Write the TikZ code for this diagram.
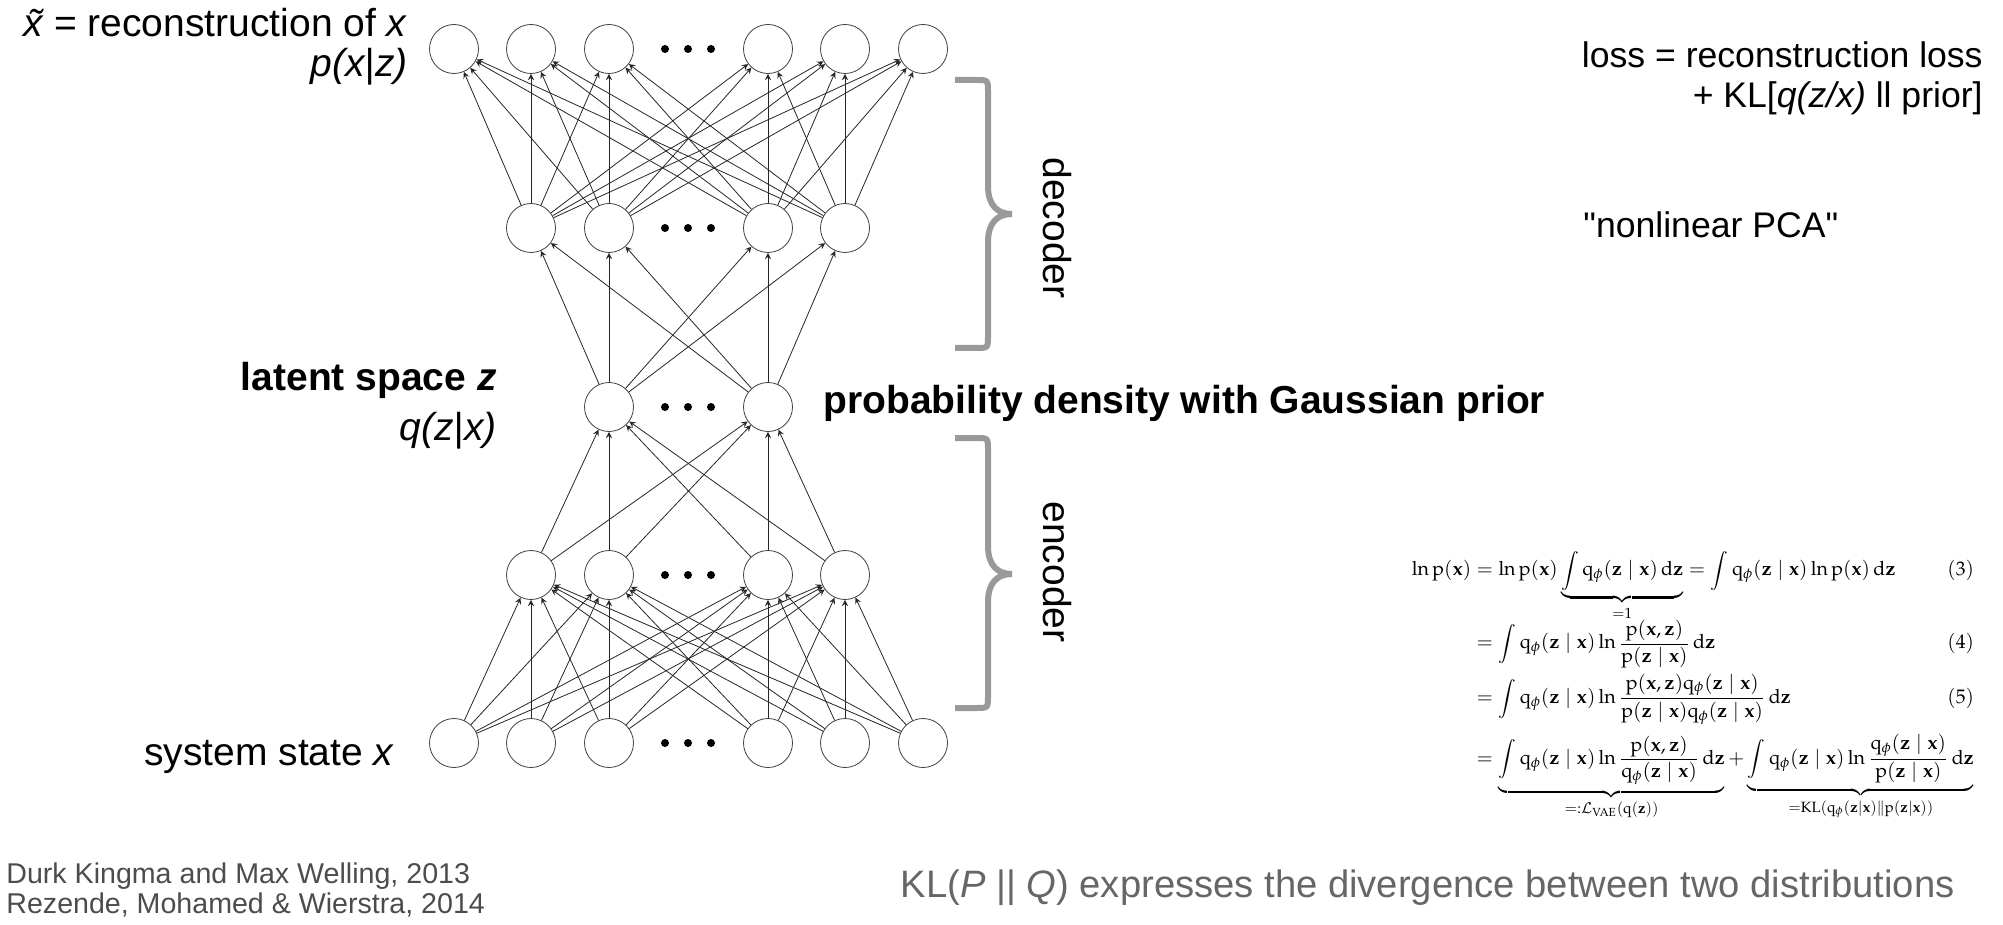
\documentclass[tikz,border=0pt]{standalone}
\usepackage{amsmath}
\usepackage{array}
\usepackage{mathpazo}
\usepackage[no-math]{fontspec}
\setmainfont{Liberation Sans}
\usepackage{tikz}
\usetikzlibrary{arrows,shapes}
\definecolor{refgray}{gray}{0.3}
\definecolor{klgray}{gray}{0.4}
\definecolor{bracegray}{gray}{0.6}
\newcommand\lblfont{\fontsize{19.5pt}{23pt}\selectfont}
\newcommand\notefont{\fontsize{17.8pt}{21pt}\selectfont}
\newcommand\reffont{\fontsize{14.3pt}{17pt}\selectfont}
\newcommand\klfont{\fontsize{19.1pt}{23pt}\selectfont}
\newcommand\dquote{\XeTeXglyph\the\XeTeXcharglyph"22\relax}
\tikzstyle{neuron}=[circle,draw=black!75,fill=white,thin,minimum size=24.5pt,inner sep=0pt]
\tikzstyle{edge} = [draw,thin,black!85,->,>=stealth]
\tikzstyle{bracket} = [draw,bracegray,line width=3pt]

\begin{document}
\begin{tikzpicture}[x=0.5pt,y=-0.5pt]
    \useasboundingbox (0,0) rectangle (2003,925);
    % First we draw the neurons, from the input row up to the output row
    \foreach \pos/\name in {{(454,743)/in1}, {(531,743)/in2}, {(609,743)/in3}, {(768,743)/in4}, {(845,743)/in5}, {(923,743)/in6},
                            {(531,575)/enc1}, {(609,575)/enc2}, {(768,575)/enc3}, {(845,575)/enc4},
                            {(609,407)/lat1}, {(768,407)/lat2},
                            {(531,228)/dec1}, {(609,228)/dec2}, {(768,228)/dec3}, {(845,228)/dec4},
                            {(454,49)/out1}, {(531,49)/out2}, {(609,49)/out3}, {(768,49)/out4}, {(845,49)/out5}, {(923,49)/out6}}
        \node[neuron] (\name) at \pos {};
    % the dots standing for the hidden units
    \foreach \y in {49,228,407,575,743}
        \foreach \x in {665,688,711}
            \fill (\x,\y) circle[radius=2pt];
    % Connect the rows with arrows
    \foreach \source in {in1,in2,in3,in4,in5,in6}
        \foreach \dest in {enc1,enc2,enc3,enc4}
            \path[edge] (\source) -- (\dest);
    \foreach \source in {enc1,enc2,enc3,enc4}
        \foreach \dest in {lat1,lat2}
            \path[edge] (\source) -- (\dest);
    \foreach \source in {lat1,lat2}
        \foreach \dest in {dec1,dec2,dec3,dec4}
            \path[edge] (\source) -- (\dest);
    \foreach \source in {dec1,dec2,dec3,dec4}
        \foreach \dest in {out1,out2,out3,out4,out5,out6}
            \path[edge] (\source) -- (\dest);

    % braces and their labels
    \foreach \top/\tip/\bot in {80/214/348, 438/574/708}
        \path[bracket] (955,\top) -- (976,\top) .. controls (988,\top) .. (988,{\top+12})
            -- (988,{\tip-28}) .. controls (988,{\tip-8}) and (998,\tip) .. (1012,\tip)
            .. controls (998,\tip) and (988,{\tip+8}) .. (988,{\tip+28})
            -- (988,{\bot-12}) .. controls (988,\bot) .. (976,\bot) -- (955,\bot);
    \node[rotate=-90,font=\lblfont] (declabel) at (1057,228) {decoder};
    \node[rotate=-90,font=\lblfont] (enclabel) at (1057,572) {encoder};

    % labels of the rows
    \node[anchor=base east,inner sep=0pt,font=\lblfont] (recon) at (408,37) {\textit{x\char"0303} = reconstruction of \textit{x}};
    \node[anchor=base east,inner sep=0pt,font=\lblfont] (pxz) at (408,77) {\textit{p(x|z)}};
    \node[anchor=base east,inner sep=0pt,font=\lblfont] (latent) at (497,390) {\textbf{latent space \textit{z}}};
    \node[anchor=base east,inner sep=0pt,font=\lblfont] (qzx) at (497,440) {\textit{q(z|x)}};
    \node[anchor=base east,inner sep=0pt,font=\lblfont] (sysstate) at (395,765) {system state \textit{x}};
    \node[anchor=base west,inner sep=0pt,font=\lblfont] (prior) at (823,413) {\textbf{probability density with Gaussian prior}};

    % notes on the right
    \node[anchor=base east,inner sep=0pt,font=\notefont] (loss) at (1983,68) {loss = reconstruction loss};
    \node[anchor=base east,inner sep=0pt,font=\notefont] (klterm) at (1983,108) {+ KL[\textit{q(z/x)} ll prior]};
    \node[anchor=base west,inner sep=0pt,font=\notefont] (pca) at (1583,238) {\dquote nonlinear PCA\dquote};

    % the derivation
    \node[inner sep=0pt,anchor=north] (derivation) at (1693,551) {\resizebox{281pt}{!}{$
        \begin{array}{@{}>{\displaystyle}r@{}>{\displaystyle}l@{}>{\displaystyle}r@{}}
        \ln\mathrm{p}(\mathbf{x}) & {}= \ln\mathrm{p}(\mathbf{x})\underbrace{\int\mathrm{q}_\phi(\mathbf{z}\mid\mathbf{x})\,\mathrm{d}\mathbf{z}}_{=1} = \int\mathrm{q}_\phi(\mathbf{z}\mid\mathbf{x})\ln\mathrm{p}(\mathbf{x})\,\mathrm{d}\mathbf{z} & (3)\\[8pt]
        & {}= \int\mathrm{q}_\phi(\mathbf{z}\mid\mathbf{x})\ln\frac{\mathrm{p}(\mathbf{x},\mathbf{z})}{\mathrm{p}(\mathbf{z}\mid\mathbf{x})}\,\mathrm{d}\mathbf{z} & (4)\\[9pt]
        & {}= \int\mathrm{q}_\phi(\mathbf{z}\mid\mathbf{x})\ln\frac{\mathrm{p}(\mathbf{x},\mathbf{z})\mathrm{q}_\phi(\mathbf{z}\mid\mathbf{x})}{\mathrm{p}(\mathbf{z}\mid\mathbf{x})\mathrm{q}_\phi(\mathbf{z}\mid\mathbf{x})}\,\mathrm{d}\mathbf{z} & (5)\\[12pt]
        & \multicolumn{2}{@{}>{\displaystyle}l@{}}{{}= \underbrace{\int\mathrm{q}_\phi(\mathbf{z}\mid\mathbf{x})\ln\frac{\mathrm{p}(\mathbf{x},\mathbf{z})}{\mathrm{q}_\phi(\mathbf{z}\mid\mathbf{x})}\,\mathrm{d}\mathbf{z}}_{=:\mathcal{L}_{\mathrm{VAE}}(\mathrm{q}(\mathbf{z}))}
          + \underbrace{\int\mathrm{q}_\phi(\mathbf{z}\mid\mathbf{x})\ln\frac{\mathrm{q}_\phi(\mathbf{z}\mid\mathbf{x})}{\mathrm{p}(\mathbf{z}\mid\mathbf{x})}\,\mathrm{d}\mathbf{z}}_{=\mathrm{KL}(\mathrm{q}_\phi(\mathbf{z}|\mathbf{x})\|\mathrm{p}(\mathbf{z}|\mathbf{x}))}}
        \end{array}$}};

    % bottom lines
    \node[anchor=base west,inner sep=0pt,font=\reffont,text=refgray] (ref1) at (6,883) {Durk Kingma and Max Welling, 2013};
    \node[anchor=base west,inner sep=0pt,font=\reffont,text=refgray] (ref2) at (6,913) {Rezende, Mohamed \& Wierstra, 2014};
    \node[anchor=base east,inner sep=0pt,font=\klfont,text=klgray] (kl) at (1955,897) {KL(\textit{P} || \textit{Q}) expresses the divergence between two distributions};
\end{tikzpicture}
\end{document}
